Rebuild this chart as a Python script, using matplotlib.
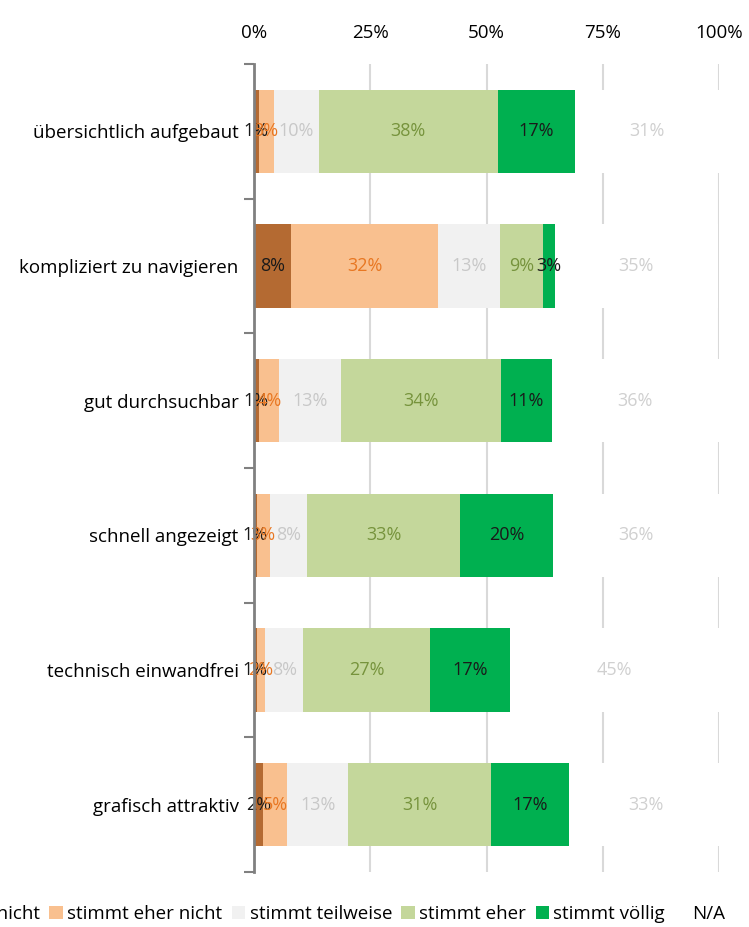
import matplotlib
matplotlib.use("Agg")
import matplotlib.pyplot as plt
import numpy as np

plt.rcParams["font.family"] = ["Open Sans", "DejaVu Sans"]

kategorien = [
    "übersichtlich aufgebaut",
    "kompliziert zu navigieren",
    "gut durchsuchbar",
    "schnell angezeigt",
    "technisch einwandfrei",
    "grafisch attraktiv",
]
stufen = ["stimmt nicht", "stimmt eher nicht", "stimmt teilweise",
          "stimmt eher", "stimmt völlig", "N/A"]

stimmt_nicht = [1, 8, 1, 0.6, 0.6, 2]
eher_nicht = [3.2, 31.6, 4.4, 2.8, 1.8, 5.2]
teilweise = [9.7, 13.4, 13.4, 8.0, 8.2, 13.1]
eher = [38.5, 9.1, 34.4, 33.0, 27.2, 30.7]
voellig = [16.6, 2.6, 10.8, 19.8, 17.2, 16.8]
na = [31, 35, 36, 36, 45, 33]

werte = [stimmt_nicht, eher_nicht, teilweise, eher, voellig, na]
farben = ["#B46A32", "#F9C08F", "#F1F1F1", "#C4D79B", "#00B050", "white"]
textfarben = ["#1a1a1a", "#E87722", "#C8C8C8", "#76933C", "#1a1a1a", "#D0D0D0"]

fig = plt.figure(figsize=(7.49, 9.27), dpi=100)
ax = fig.add_axes([254 / 749, 55 / 927, 465 / 749, 808 / 927])

y = np.arange(len(kategorien))
links = np.zeros(len(kategorien))
for werte_i, farbe, tf, name in zip(werte, farben, textfarben, stufen):
    w = np.array(werte_i, dtype=float)
    ax.barh(y, w, left=links, height=0.62, color=farbe, label=name, zorder=2)
    for yi, (l, wi) in enumerate(zip(links, w)):
        ax.text(l + wi / 2, yi, f"{wi:.0f}%", ha="center", va="center",
                color=tf, fontsize=13, zorder=3)
    links += w

ax.set_xlim(0, 100)
ax.set_ylim(len(kategorien) - 0.5, -0.5)
ax.set_xticks([0, 25, 50, 75, 100])
ax.set_xticklabels(["0%", "25%", "50%", "75%", "100%"], fontsize=13.5)
ax.xaxis.tick_top()
ax.tick_params(axis="x", length=0, pad=16)
ax.grid(axis="x", color="#D9D9D9", linewidth=1.5, zorder=0)

ax.set_yticks(y)
ax.set_yticklabels(kategorien, fontsize=13.5)
ax.tick_params(axis="y", which="major", length=0, pad=11)
ax.set_yticks(np.arange(-0.5, len(kategorien)), minor=True)
ax.tick_params(axis="y", which="minor", length=7, width=1.5, color="#808080")

for s in ["top", "right", "bottom"]:
    ax.spines[s].set_visible(False)
ax.spines["left"].set_color("#808080")
ax.spines["left"].set_linewidth(2)
ax.spines["left"].set_zorder(4)

handles, labels = ax.get_legend_handles_labels()
fig.legend(handles, labels, loc="lower right", bbox_to_anchor=(742 / 749, -0.014),
           ncol=6, frameon=False, fontsize=13.5, handlelength=0.7,
           handleheight=0.7, handletextpad=0.25, columnspacing=0.5)

fig.savefig("out.png", dpi=100)
